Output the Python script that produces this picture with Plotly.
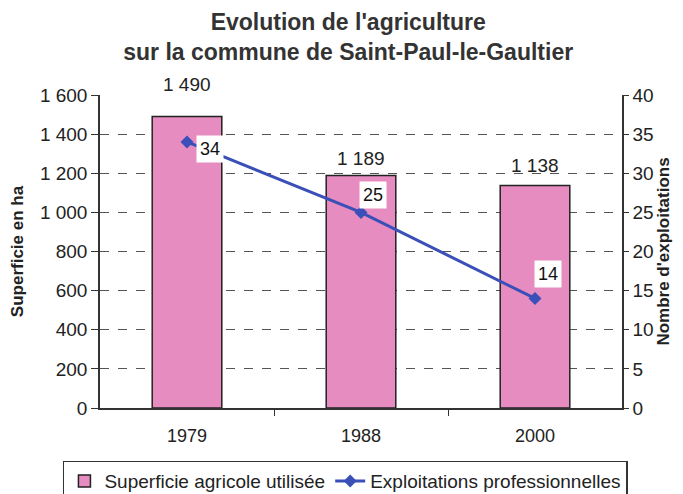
import plotly.graph_objects as go

years = ["1979", "1988", "2000"]
superficie = [1490, 1189, 1138]
exploitations = [34, 25, 14]
superficie_labels = ["1 490", "1 189", "1 138"]

FONT = "Liberation Sans, Arial, sans-serif"
idx = list(range(len(years)))

fig = go.Figure()
fig.add_trace(go.Bar(
    x=idx, y=superficie, name="Superficie agricole utilisée",
    marker=dict(color="#E68CC0", line=dict(color="#222222", width=1.5)),
    width=0.4,
))
fig.add_trace(go.Scatter(
    x=idx, y=exploitations, name="Exploitations professionnelles",
    yaxis="y2", mode="lines+markers",
    line=dict(color="#3B4FB8", width=3),
    marker=dict(symbol="diamond", size=10, color="#3B4FB8"),
))

annotations = []
bar_shifts = [32, 17, 20]
for i, v, lab, s in zip(idx, superficie, superficie_labels, bar_shifts):
    annotations.append(dict(x=i, y=v, text=lab, showarrow=False, yshift=s,
                            font=dict(size=19, color="#222", family=FONT)))
line_shifts = [(23, -7), (12, 17), (13, 24)]
for i, v, (dx, dy) in zip(idx, exploitations, line_shifts):
    annotations.append(dict(x=i, y=v, yref="y2", text=str(v), showarrow=False,
                            xshift=dx, yshift=dy, bgcolor="white",
                            borderpad=3,
                            font=dict(size=18, color="#111", family=FONT)))

fig.update_layout(
    width=675, height=486,
    margin=dict(l=92, r=61, t=87, b=86, autoexpand=False),
    paper_bgcolor="white", plot_bgcolor="white",
    separators=", ",
    font=dict(family=FONT, color="#222", size=18),
    title=dict(text="<b>Evolution de l'agriculture<br>sur la commune de Saint-Paul-le-Gaultier</b>",
               x=0.504, xanchor="center", y=0.954, yanchor="top",
               font=dict(size=23, color="#333", family=FONT)),
    showlegend=True,
    legend=dict(orientation="h", x=-0.071, xanchor="left",
                y=-0.168, yanchor="top",
                bordercolor="#333", borderwidth=1.5, font=dict(size=19, color="#222"),
                bgcolor="white", traceorder="normal", itemwidth=30),
    xaxis=dict(tickmode="array", tickvals=idx, ticktext=years, range=[-0.5, 2.5],
               showline=True, linecolor="#333", linewidth=1.5,
               ticks="", showgrid=False, tickfont=dict(size=18), zeroline=False,
               ticklabelstandoff=11,
               minor=dict(tickvals=[0.5, 1.5], ticks="outside", ticklen=6, tickcolor="#333")),
    yaxis=dict(range=[0, 1600], dtick=200, tickformat=",d", showline=True,
               linecolor="#333", linewidth=1.5, ticks="outside", ticklen=7, tickcolor="#333",
               showgrid=True, gridcolor="#555", griddash="dash", gridwidth=1,
               zeroline=False, tickfont=dict(size=19), automargin=False,
               title=dict(text="<b>Superficie en ha</b>", font=dict(size=17, color="#222"), standoff=20)),
    yaxis2=dict(range=[0, 40], dtick=5, overlaying="y", side="right", showline=True,
                linecolor="#333", linewidth=1.5, ticks="outside", ticklen=5, tickcolor="#333",
                showgrid=False, zeroline=False, tickfont=dict(size=19), automargin=False,
                title=dict(text="<b>Nombre d'exploitations</b>", font=dict(size=17, color="#222"), standoff=4)),
    annotations=annotations,
)

fig.write_html("out.html")
